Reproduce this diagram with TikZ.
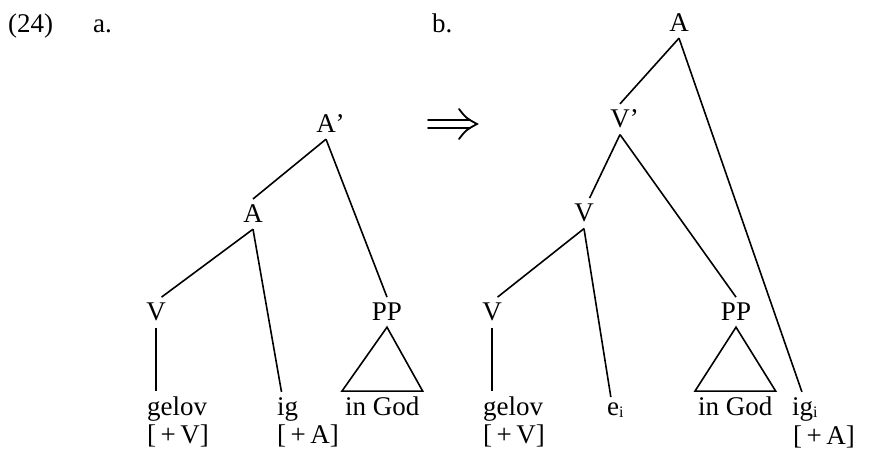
\documentclass[tikz,border=0pt]{standalone}
\usepackage{fontspec}
\setmainfont{Liberation Serif}
\begin{document}
\begin{tikzpicture}[x=1pt,y=-1pt,
  lbl/.style={font=\fontsize{27}{31}\selectfont, inner sep=6pt, anchor=base},
  word/.style={font=\fontsize{27}{31}\selectfont, inner xsep=0pt, inner ysep=5pt, anchor=base west},
  feat/.style={word, inner ysep=0pt},
  tri/.style={word, inner xsep=3pt},
  edge/.style={line width=1.6pt, line join=miter},
  dbl/.style={line width=1.8pt, line cap=round},
]
\useasboundingbox (0,0) rectangle (879,457);
% headings
\node[word] (num) at (8,33) {(24)};
\node[word] (la) at (93,33) {a.};
\node[word] (lb) at (432,33) {b.};
% double arrow
\draw[dbl] (428,120) -- (470,120);
\draw[dbl] (428,128) -- (470,128);
\draw[dbl] (459,109) .. controls (466,118) .. (477,124) .. controls (466,130) .. (459,139);
% tree a
\node[lbl] (Ap) at (326,133) {A\rlap{'}};
\node[lbl] (Aa) at (253,223) {A};
\node[lbl] (Va) at (156,321) {V};
\node[lbl] (PPa) at (387,321) {PP};
\node[word] (gelova) at (147,415) {gelov};
\node[feat] (gelovfa) at (147,443) {[\,+\,V]};
\node[word] (iga) at (277,415) {ig};
\node[feat] (igfa) at (277,443) {[\,+\,A]};
\node[tri] (inGoda) at (342,415) {in God};
\draw[edge] (Ap.south) -- (Aa.north);
\draw[edge] (Ap.south) -- (PPa.north);
\draw[edge] (Aa.south) -- (Va.70);
\draw[edge] (Aa.south) -- (iga.110);
\draw[edge] (Va.south) -- (Va.south |- gelova.north);
\draw[edge] (PPa.south) -- (inGoda.north west) -- (inGoda.north east) -- cycle;
% tree b
\node[lbl] (Ab) at (679,32) {A};
\node[lbl] (Vpb) at (620,128) {V\rlap{'}};
\node[lbl] (Vb) at (584,222) {V};
\node[lbl] (Vlb) at (492,321) {V};
\node[lbl] (PPb) at (736,321) {PP};
\node[word] (gelovb) at (483,415) {gelov};
\node[feat] (gelovfb) at (483,443) {[\,+\,V]};
\node[word] (eb) at (607,415) {e\raisebox{-2pt}{\fontsize{16}{16}\selectfont i}};
\node[tri] (inGodb) at (695,415) {in God};
\node[word] (igb) at (792,415) {ig\raisebox{-2pt}{\fontsize{16}{16}\selectfont i}};
\node[feat] (igfb) at (793,444) {[\,+\,A]};
\draw[edge] (Ab.south) -- (Vpb.north);
\draw[edge] (Ab.south) -- (igb.100);
\draw[edge] (Vpb.south) -- (Vb.70);
\draw[edge] (Vpb.south) -- (PPb.north);
\draw[edge] (Vb.south) -- (Vlb.70);
\draw[edge] (Vb.south) -- (eb.110);
\draw[edge] (Vlb.south) -- (Vlb.south |- gelovb.north);
\draw[edge] (PPb.south) -- (inGodb.north west) -- (inGodb.north east) -- cycle;
\end{tikzpicture}
\end{document}
